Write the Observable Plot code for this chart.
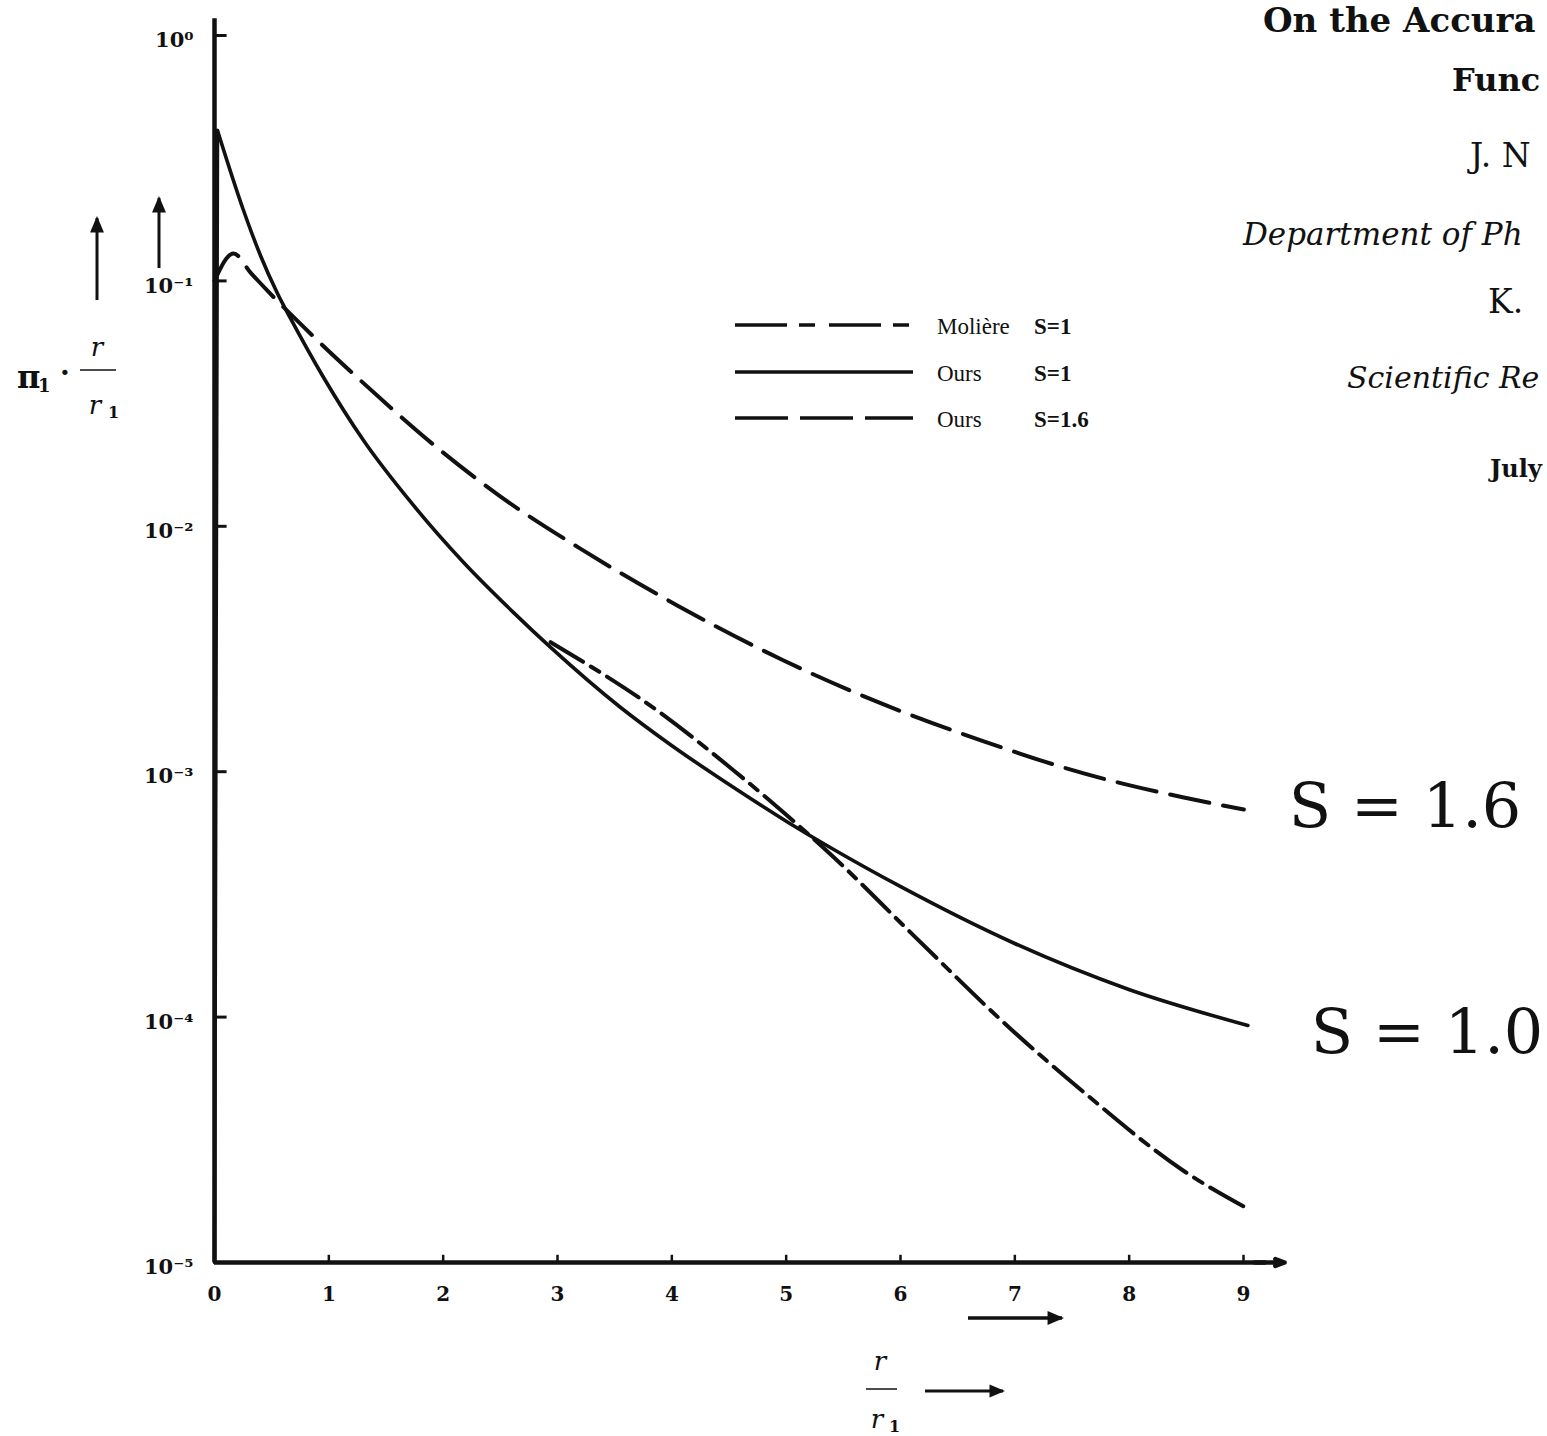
<!DOCTYPE html>
<html><head><meta charset="utf-8">
<script src="https://cdn.jsdelivr.net/npm/d3@7"></script>
<script src="https://cdn.jsdelivr.net/npm/@observablehq/plot@0.6"></script>
<style>
body{margin:0;background:#fff}
#wrap{position:relative;width:1547px;height:1436px;overflow:hidden;background:#fff}
#wrap > svg{position:absolute;left:0;top:0}
</style></head>
<body><div id="wrap"></div>
<script>
// ---- data (x = r/r1, y = pi1 * r/r1) ----
const oursS1X = [0, 0.026, 0.254, 0.402, 0.551, 0.665, 0.954, 1.304, 1.741, 2.179, 2.616, 2.94, 3.552, 3.998, 4.541, 5.004, 5.416, 6.002, 6.999, 7.997, 9.038];
const oursS1Y = [1e-5, 0.410, 0.1936, 0.1269, 0.0888, 0.0703, 0.0404, 0.02236, 0.01216, 0.00712, 0.00445, 0.00321, 0.001827, 0.001279, 0.000862, 0.000627, 0.000482, 0.00034, 0.0001995, 0.0001296, 0.0000924];

const moliereX = [0, 0.166, 0.315, 0.866, 1.277, 1.977, 2.502, 3.228, 4.051, 4.978, 5.853, 6.728, 7.603, 8.478, 9.003];
const moliereY = [0.1, 0.1294, 0.1081, 0.0593, 0.0393, 0.02037, 0.01322, 0.00796, 0.00475, 0.00284, 0.00188, 0.00133, 0.000984, 0.000785, 0.000701];

const oursS16X = [2.94, 3.876, 4.541, 4.978, 5.416, 6.089, 6.964, 7.603, 8.478, 9.064];
const oursS16Y = [0.00337, 0.00177, 0.001012, 0.000682, 0.000448, 0.000221, 0.0000895, 0.0000494, 0.0000236, 0.0000163];

const xTicks = [0, 1, 2, 3, 4, 5, 6, 7, 8, 9];
const yTicks = [1, 1e-1, 1e-2, 1e-3, 1e-4, 1e-5];
const yTickLabels = ["10\u2070", "10\u207B\u00B9", "10\u207B\u00B2", "10\u207B\u00B3", "10\u207B\u2074", "10\u207B\u2075"];

const legendNames = ["Moli\u00E8re", "Ours", "Ours"];
const legendS = ["S=1", "S=1", "S=1.6"];
const annotations = ["S = 1.6", "S = 1.0"];

// ---- build tables ----
const toRows = (xs, ys) => xs.map((x, i) => ({x, y: ys[i]}));
const solid = toRows(oursS1X, oursS1Y);
const moliere = toRows(moliereX, moliereY);
const s16 = toRows(oursS16X, oursS16Y);

const INK = "#111";
const serif = "DejaVu Serif";

const chart = Plot.plot({
  width: 1547,
  height: 1436,
  marginLeft: 214,
  marginRight: 304,
  marginTop: 35,
  marginBottom: 174,
  style: {background: "white", color: INK, overflow: "visible"},
  x: {domain: [0, 9]},
  y: {type: "log", domain: [1e-5, 1]},
  marks: [
    Plot.axisY({ticks: yTicks, tickFormat: d => yTickLabels[yTicks.indexOf(d)], tickSize: 0, tickPadding: 21,
      fontSize: 21, fontWeight: "bold", fontFamily: serif, dy: 5, label: null}),
    Plot.axisX({ticks: xTicks, tickFormat: d => String(d), tickSize: 0, tickPadding: 24,
      fontSize: 20, fontWeight: "bold", fontFamily: serif, label: null}),
    // inward tick marks
    Plot.ruleY(yTicks, {y: d => d, x1: 0, x2: 0.11, stroke: INK, strokeWidth: 3}),
    Plot.ruleX(xTicks, {x: d => d, y1: 1e-5, y2: 1.07e-5, stroke: INK, strokeWidth: 2.5}),
    // axis lines
    Plot.ruleX([0], {x: d => d, y1: 1e-5, y2: 1.17, stroke: INK, strokeWidth: 4.5}),
    Plot.ruleY([1e-5], {y: d => d, x1: 0, x2: 9.2, stroke: INK, strokeWidth: 4.5}),
    Plot.arrow([1e-5], {x1: 9.1, x2: 9.36, y1: d => d, y2: d => d, stroke: INK, strokeWidth: 4.5, headLength: 12, headAngle: 40}),
    // curves
    Plot.line(moliere, {x: "x", y: "y", stroke: INK, strokeWidth: 4, strokeDasharray: "40,14", curve: "monotone-x"}),
    Plot.line(solid.slice(0, 2), {x: "x", y: "y", stroke: INK, strokeWidth: 3.6}),
    Plot.line(solid.slice(1), {x: "x", y: "y", stroke: INK, strokeWidth: 3.6, curve: "monotone-x"}),
    Plot.line(s16, {x: "x", y: "y", stroke: INK, strokeWidth: 4, strokeDasharray: "38,9,10,9", curve: "monotone-x"}),
    // end annotations
    Plot.text([moliere[moliere.length - 1]], {x: "x", y: "y", text: () => annotations[0], textAnchor: "start",
      dx: 45, dy: -2, fontSize: 62, fontFamily: serif, fill: INK}),
    Plot.text([solid[solid.length - 1]], {x: "x", y: "y", text: () => annotations[1], textAnchor: "start",
      dx: 63, dy: 8, fontSize: 62, fontFamily: serif, fill: INK})
  ]
});
document.getElementById("wrap").appendChild(chart);

// ---- decorations overlay (legend, axis titles, page text) ----
const ns = "http://www.w3.org/2000/svg";
const ov = document.createElementNS(ns, "svg");
ov.setAttribute("width", 1547); ov.setAttribute("height", 1436);
ov.setAttribute("style", "pointer-events:none");
document.getElementById("wrap").appendChild(ov);
function el(tag, attrs, text) {
  const e = document.createElementNS(ns, tag);
  for (const k in attrs) e.setAttribute(k, attrs[k]);
  if (text != null) e.textContent = text;
  ov.appendChild(e);
  return e;
}
function txt(x, y, s, size, opts = {}) {
  return el("text", Object.assign({x, y, "font-family": serif, "font-size": size, fill: INK}, opts), s);
}
function arrow(x1, y1, x2, y2, w, head) {
  el("line", {x1, y1, x2, y2, stroke: INK, "stroke-width": w});
  const a = Math.atan2(y2 - y1, x2 - x1), h = head, s = 0.45;
  const p = [[x2 + Math.cos(a) * 2, y2 + Math.sin(a) * 2],
    [x2 - h * Math.cos(a - s), y2 - h * Math.sin(a - s)],
    [x2 - h * Math.cos(a + s), y2 - h * Math.sin(a + s)]];
  el("polygon", {points: p.map(q => q.join(",")).join(" "), fill: INK});
}

// legend
const legDash = ["52,12,16,14", null, "53,12"];
const legY = [325, 372, 418];
legY.forEach((y, i) => {
  const a = {x1: 735, x2: 913, y1: y, y2: y, stroke: INK, "stroke-width": 3.6};
  if (legDash[i]) a["stroke-dasharray"] = legDash[i];
  el("line", a);
  txt(937, y + 9, legendNames[i], 23, {"font-family": "Liberation Serif"});
  txt(1034, y + 9, legendS[i], 23, {"font-family": "Liberation Serif", "font-weight": "bold"});
});

// y-axis title
txt(17, 388, "\u03C0", 32, {"font-weight": "bold"});
txt(38, 392, "1", 18, {"font-weight": "bold"});
txt(60, 382, "\u00B7", 28, {"font-weight": "bold"});
txt(97, 356, "r", 26, {"font-style": "italic", "text-anchor": "middle"});
el("line", {x1: 80, x2: 116, y1: 370, y2: 370, stroke: INK, "stroke-width": 1.5});
txt(95, 414, "r", 26, {"font-style": "italic", "text-anchor": "middle"});
txt(108, 418, "1", 16, {"font-weight": "bold"});
arrow(97, 300, 97, 218, 3, 16);
arrow(159, 268, 159, 198, 3, 16);

// x-axis title
txt(880, 1370, "r", 26, {"font-style": "italic", "text-anchor": "middle"});
el("line", {x1: 866, x2: 897, y1: 1389, y2: 1389, stroke: INK, "stroke-width": 1.5});
txt(877, 1428, "r", 26, {"font-style": "italic", "text-anchor": "middle"});
txt(889, 1432, "1", 16, {"font-weight": "bold"});
arrow(925, 1391, 1003, 1391, 3, 15);
arrow(968, 1318, 1062, 1318, 3.5, 16);

// page text at right (cut off by the page edge in the original)
txt(1263, 32, "On the Accura", 34, {"font-weight": "bold"});
txt(1452, 91, "Func", 32, {"font-weight": "bold"});
txt(1470, 167, "J. N", 33);
txt(1243, 245, "Department of Ph", 31, {"font-style": "italic"});
txt(1488, 313, "K.", 33);
txt(1347, 388, "Scientific Re", 30, {"font-style": "italic"});
txt(1490, 477, "July", 24, {"font-weight": "bold"});
</script>
</body></html>
